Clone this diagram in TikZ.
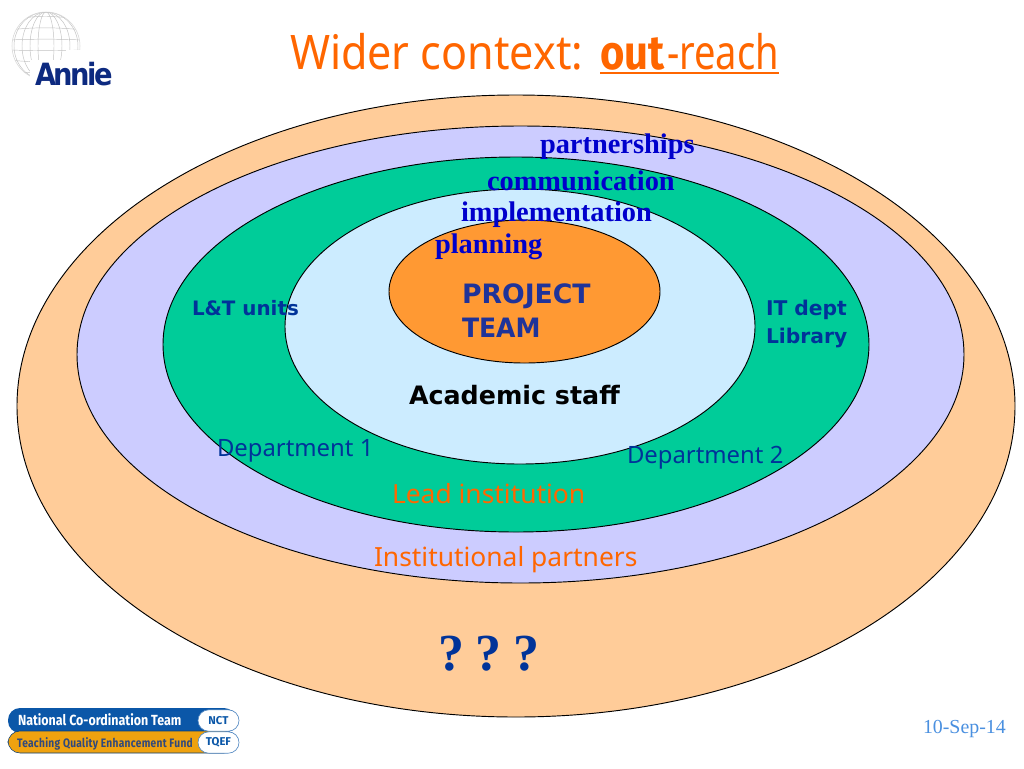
\documentclass[tikz,border=0pt]{standalone}
\usepackage{fontspec}
\setmainfont{Liberation Serif}
\newfontfamily\vrd{DejaVu Sans}
\newfontfamily\thm{Noto Sans}
\newfontfamily\lato{Fira Sans}
\definecolor{ring1}{HTML}{FFCC99}
\definecolor{ring2}{HTML}{CCCCFF}
\definecolor{ring3}{HTML}{00CC99}
\definecolor{ring4}{HTML}{CCECFF}
\definecolor{ring5}{HTML}{FF9933}
\definecolor{titlec}{HTML}{FF6600}
\definecolor{bluet}{HTML}{0000CC}
\definecolor{navy}{HTML}{1F3399}
\definecolor{darkb}{HTML}{003399}
\definecolor{nctb}{HTML}{0B57A8}
\definecolor{tqefo}{HTML}{EFA20F}
\definecolor{annie}{HTML}{0D2A80}
\definecolor{dategr}{HTML}{4A90E0}
\tikzset{
  ring/.style={draw=black,line width=0.7pt},
  lbl/.style={anchor=base west,inner sep=0pt,outer sep=0pt},
  gridl/.style={draw=black!24,line width=0.35pt},
  pill/.style={draw=nctb!70,fill=white,line width=0.5pt,rounded corners=8pt,minimum width=30.75pt,minimum height=16pt,inner sep=0pt,text=nctb,font=\lato\bfseries\fontsize{8.5}{8.5}\selectfont},
}
\begin{document}
\begin{tikzpicture}[x=0.75pt,y=-0.75pt]
\useasboundingbox (0,0) rectangle (1024,768);
\fill[white] (0,0) rectangle (1024,768);
% rings
\path[ring,fill=ring1] (516,406) ellipse [x radius=499,y radius=311];
\path[ring,fill=ring2] (520.5,354.5) ellipse [x radius=443.5,y radius=228.5];
\path[ring,fill=ring3] (516,344.5) ellipse [x radius=353,y radius=187.5];
\path[ring,fill=ring4] (520,326.5) ellipse [x radius=235,y radius=137.5];
\path[ring,fill=ring5] (524.5,291.5) ellipse [x radius=135.5,y radius=71.5];
% title
\node[lbl,text=titlec,font=\thm\fontsize{35.7}{36}\selectfont] (title) at (290,69) {\scalebox{0.905}[1]{Wider context:}};
\node[lbl,text=titlec,font=\lato\bfseries\fontsize{36}{36}\selectfont] (outw) at (600,69) {\scalebox{0.87}[1]{out}};
\node[lbl,text=titlec,font=\thm\fontsize{35.7}{36}\selectfont] (reach) at (667,69) {\scalebox{0.8}[1]{-reach}};
\draw[titlec,line width=2pt] ([yshift=-3pt]outw.base west) -- ([yshift=-3pt]reach.base east);
% blue serif labels
\node[lbl,text=bluet,font=\bfseries\fontsize{21.3}{21.3}\selectfont] (partners) at (540,153) {partnerships};
\node[lbl,text=bluet,font=\bfseries\fontsize{21.3}{21.3}\selectfont] (comm) at (487,190) {communication};
\node[lbl,text=bluet,font=\bfseries\fontsize{21.3}{21.3}\selectfont] (impl) at (461,221) {implementation};
\node[lbl,text=bluet,font=\bfseries\fontsize{21.3}{21.3}\selectfont] (plan) at (435,253) {planning};
% inner labels
\node[lbl,text=navy,font=\vrd\bfseries\fontsize{20}{20}\selectfont] (proj) at (462,303) {PROJECT};
\node[lbl,text=navy,font=\vrd\bfseries\fontsize{20}{20}\selectfont] (team) at (462,337) {\scalebox{0.94}[1]{TEAM}};
\node[lbl,text=black,font=\vrd\bfseries\fontsize{19}{19}\selectfont] (acad) at (409,404) {Academic staff};
\node[lbl,text=darkb,font=\vrd\bfseries\fontsize{14.9}{14.9}\selectfont] (lt) at (192,315) {L\&T units};
\node[lbl,text=darkb,font=\vrd\bfseries\fontsize{15.2}{15.2}\selectfont] (it) at (766,315) {IT dept};
\node[lbl,text=darkb,font=\vrd\bfseries\fontsize{15.2}{15.2}\selectfont] (lib) at (766,343) {Library};
\node[lbl,text=darkb,font=\thm\fontsize{17.9}{18}\selectfont] (d1) at (217,456) {Department 1};
\node[lbl,text=darkb,font=\thm\fontsize{17.9}{18}\selectfont] (d2) at (627,463) {Department 2};
\node[lbl,text=titlec,font=\thm\fontsize{19.8}{20}\selectfont] (lead) at (392,503) {Lead institution};
\node[lbl,text=titlec,font=\thm\fontsize{19.8}{20}\selectfont] (inst) at (374,566) {Institutional partners};
\node[lbl,text=darkb,font=\bfseries\fontsize{39}{39}\selectfont] (qq) at (438,670) {?\hspace{-4pt} ?\hspace{-4pt} ?};
\node[lbl,text=dategr,font=\fontsize{14.9}{14.9}\selectfont] (date) at (923,733) {10-Sep-14};
% Annie logo: globe
\begin{scope}
\clip (46,46) circle [radius=34];
\foreach \r in {8,16,24,32}{\draw[gridl] (46,46) ellipse [x radius=\r,y radius=34];}
\foreach \d in {-26,-16,-6,4,14,24}{\draw[gridl] (10,46+\d) .. controls (30,46+\d*1.18) and (60,46+\d*1.18) .. (82,46+\d);}
\end{scope}
\draw[black!16,line width=0.4pt] (46,46) circle [radius=34];
\fill[white] (30,60) rectangle (90,90);
\fill[white] (66,50) rectangle (90,62);
\node[lbl,text=annie,font=\vrd\bfseries\fontsize{23}{23}\selectfont] (anniet) at (35,85) {\scalebox{0.89}[1]{\addfontfeature{LetterSpace=-9}Annie}};
% footer badge
\fill[nctb,rounded corners=9pt] (8,708) rectangle (236,733);
\fill[tqefo,rounded corners=9pt] (8,731) rectangle (236,753);
\draw[nctb!70!black,line width=0.4pt,rounded corners=9pt] (8,731) rectangle (236,753);
\node[pill] (nct) at (218.5,720.5) {NCT};
\node[pill] (tqef) at (218.5,742.5) {TQEF};
\node[lbl,text=white,font=\lato\bfseries\fontsize{11}{11}\selectfont] (ncot) at (18,725) {\scalebox{0.85}[1]{National Co-ordination Team}};
\node[lbl,text=darkb!80!tqefo,font=\lato\bfseries\fontsize{9.2}{9.2}\selectfont] (tq) at (17,747) {\scalebox{0.83}[1]{\addfontfeature{LetterSpace=3}Teaching Quality Enhancement Fund}};
\end{tikzpicture}
\end{document}
